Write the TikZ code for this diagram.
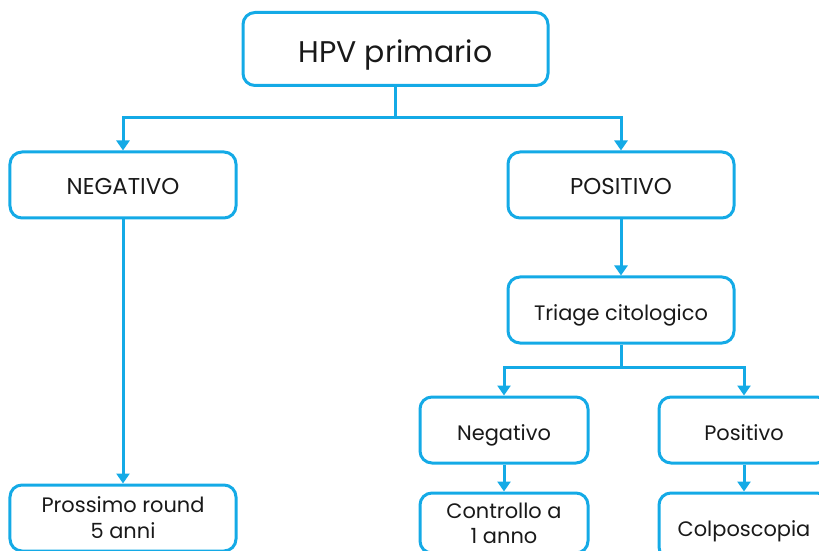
\documentclass[tikz,border=0pt]{standalone}
\usepackage{fontspec}
\setmainfont{Poppins}
\usetikzlibrary{arrows.meta}
\definecolor{ciano}{RGB}{20,170,230}
\definecolor{testo}{RGB}{25,25,25}
\tikzset{ %stili dei box e delle frecce
    box/.style={draw=ciano, line width=3bp, rounded corners=12bp, text=testo, align=center, inner sep=0pt, minimum height=66bp, font=\fontsize{21}{26}\selectfont},
    riga/.style={text height=20bp, text depth=0bp},
    freccia/.style={draw=ciano, line width=3bp, -{Triangle[width=13bp,length=10bp]}},
}

\begin{document}
\begin{tikzpicture}[x=1bp,y=-1bp]
		\useasboundingbox (0,0) rectangle (819,551);
		\node[box, minimum width=305bp, minimum height=73bp, text height=28bp, text depth=0bp, font=\fontsize{30}{34}\selectfont] (hpv) at (395.5,49) {HPV primario};
		\node[box, riga, minimum width=226bp, font=\fontsize{23}{26}\selectfont] (neg) at (123,185) {NEGATIVO};
		\node[box, riga, minimum width=226bp, font=\fontsize{23}{26}\selectfont] (pos) at (621,185) {POSITIVO};
		\node[box, riga, minimum width=226bp] (triage) at (621,310) {Triage citologico};
		\node[box, riga, minimum width=168bp] (negcit) at (504,430) {Negativo};
		\node[box, riga, minimum width=170bp] (poscit) at (744,430) {Positivo};
		\node[box, minimum width=226bp] (round) at (123,518) {Prossimo round\\5 anni};
		\node[box, minimum width=168bp, minimum height=60bp, font=\fontsize{21}{25}\selectfont] (controllo) at (504,523) {Controllo a\\1 anno};
		\node[box, riga, minimum width=170bp] (colpo) at (744,526) {Colposcopia};
		\coordinate (bivio1) at (0,118);
		\coordinate (bivio2) at (0,367);
		\foreach \a in {neg,pos}{
			\draw[freccia] (hpv.south) -- (hpv.south |- bivio1) -| (\a.north);
		}
		\foreach \a in {negcit,poscit}{
			\draw[freccia] (triage.south) -- (triage.south |- bivio2) -| (\a.north);
		}
		\draw[freccia] (neg) -- (round);
		\draw[freccia] (pos) -- (triage);
		\draw[freccia] (negcit) -- (controllo);
		\draw[freccia] (poscit) -- (colpo);
	\end{tikzpicture}
\end{document}
